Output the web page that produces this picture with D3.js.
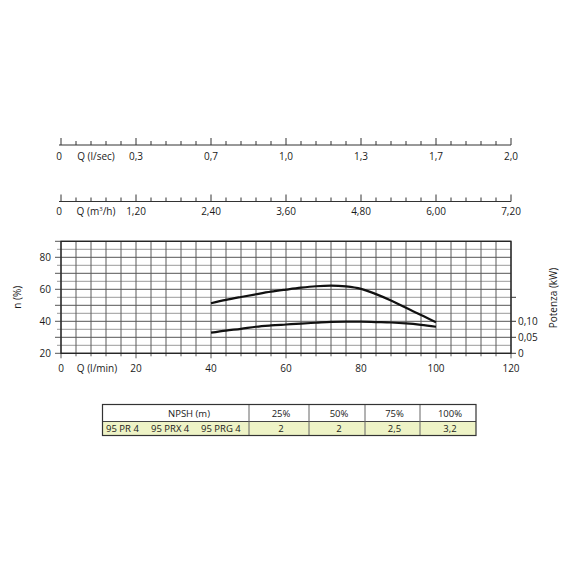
<!DOCTYPE html>
<html><head><meta charset="utf-8">
<script src="https://cdn.jsdelivr.net/npm/d3@7"></script>
<style>
body{margin:0;background:#fff}
svg{display:block}
text{font-family:"Open Sans",sans-serif;fill:#1a1a1a}
</style>
</head><body><svg id="c" width="570" height="570"></svg>
<script>
// ---- data ----
const flowLmin = [40,44,48,52,56,60,64,68,72,76,80,84,88,92,96,100];
const efficiency = [51.3,53.4,55.2,56.9,58.5,59.8,61.0,61.9,62.3,61.8,60.3,57.0,53.0,48.4,44.0,39.4];
const powerKW = [0.0645,0.071,0.0765,0.083,0.087,0.090,0.093,0.0955,0.098,0.0988,0.0988,0.0975,0.0962,0.0935,0.089,0.083];

const lminTicks = [20,40,60,80,100,120];
const lminLabels = ["20","40","60","80","100","120"];
const lsecLabels = ["0,3","0,7","1,0","1,3","1,7","2,0"];
const m3hLabels = ["1,20","2,40","3,60","4,80","6,00","7,20"];
const minorStep = 4;
const effTicks = [20,40,60,80];
const effGridMajor = [20,30,40,50,60,70,80,90];
const effGridMinor = [25,35,45,55,65,75,85];
const kwTicks = [0,0.05,0.10,0.175];
const kwLabels = ["0","0,05","0,10",""];

const tableHeader = ["NPSH (m)","25%","50%","75%","100%"];
const models = ["95 PR 4","95 PRX 4","95 PRG 4"];
const npshValues = ["2","2","2,5","3,2"];

// ---- drawing ----
const svg = d3.select("#c");
const X0 = 61, X1 = 511, YB = 353.3, YT = 241.3;
const x = d3.scaleLinear().domain([0,120]).range([X0,X1]);
const yL = d3.scaleLinear().domain([20,90]).range([YB,YT]);
const yR = d3.scaleLinear().domain([0,0.35]).range([YB,YT]);
const minorVals = d3.range(0,121,minorStep);

// top flow axes
function flowAxis(yPos, labels, title, labelDy){
  const g = svg.append("g");
  g.append("line").attr("x1",x(0)-2).attr("x2",x(120)).attr("y1",yPos).attr("y2",yPos)
    .attr("stroke","#333").attr("stroke-width",1);
  g.selectAll("line.mn").data(minorVals).join("line")
    .attr("x1",d=>x(d)).attr("x2",d=>x(d))
    .attr("y1",yPos).attr("y2",d=>d%20===0?yPos-7:yPos-4)
    .attr("stroke","#333").attr("stroke-width",1);
  g.selectAll("text.lb").data(lminTicks).join("text")
    .attr("x",d=>x(d)).attr("y",yPos+labelDy).attr("text-anchor","middle")
    .attr("font-size",10).text((d,i)=>labels[i]);
  g.append("text").attr("x",x(0)-2).attr("y",yPos+labelDy).attr("text-anchor","middle")
    .attr("font-size",10).text("0");
  g.append("text").attr("x",96).attr("y",yPos+labelDy).attr("text-anchor","middle")
    .attr("font-size",10).html(title);
}
flowAxis(145, lsecLabels, "Q (l/sec)", 15);
flowAxis(201.5, m3hLabels, "Q (m<tspan dy='-4' font-size='6'>3</tspan><tspan dy='4'>/h)</tspan>", 13);

// grid
const grid = svg.append("g");
grid.selectAll("line.hm").data(effGridMinor).join("line")
  .attr("x1",X0-4).attr("x2",X1).attr("y1",d=>yL(d)).attr("y2",d=>yL(d))
  .attr("stroke","#9a9a9a").attr("stroke-width",1);
grid.selectAll("line.hM").data(effGridMajor).join("line")
  .attr("x1",X0-6).attr("x2",X1).attr("y1",d=>yL(d)).attr("y2",d=>yL(d))
  .attr("stroke","#555").attr("stroke-width",1);
grid.selectAll("line.v").data(minorVals).join("line")
  .attr("x1",d=>x(d)).attr("x2",d=>x(d)).attr("y1",YT).attr("y2",d=>d%20===0?YB+5:YB+3)
  .attr("stroke","#5a5a5a").attr("stroke-width",1);
// frame
grid.append("rect").attr("x",X0).attr("y",YT).attr("width",X1-X0).attr("height",YB-YT)
  .attr("fill","none").attr("stroke","#222").attr("stroke-width",1.3);

// left labels
svg.selectAll("text.yl").data(effTicks).join("text")
  .attr("x",X0-10).attr("y",d=>yL(d)+3.5).attr("text-anchor","end").attr("font-size",10)
  .text(d=>d);
svg.append("text").attr("transform",`translate(21,${(YT+YB)/2}) rotate(-90)`)
  .attr("text-anchor","middle").attr("font-size",10).text("n (%)");

// right axis
const rg = svg.append("g");
rg.selectAll("line").data(kwTicks).join("line")
  .attr("x1",X1).attr("x2",X1+5).attr("y1",d=>yR(d)).attr("y2",d=>yR(d))
  .attr("stroke","#333").attr("stroke-width",1);
rg.selectAll("text").data(kwTicks).join("text")
  .attr("x",X1+7).attr("y",d=>yR(d)+3.5).attr("font-size",10).text((d,i)=>kwLabels[i]);
svg.append("text").attr("transform",`translate(557,298) rotate(-90)`)
  .attr("text-anchor","middle").attr("font-size",10).text("Potenza (kW)");

// bottom axis labels
svg.selectAll("text.xb").data(lminTicks).join("text")
  .attr("x",d=>x(d)).attr("y",372).attr("text-anchor","middle").attr("font-size",10)
  .text((d,i)=>lminLabels[i]);
svg.append("text").attr("x",x(0)).attr("y",372).attr("text-anchor","middle").attr("font-size",10).text("0");
svg.append("text").attr("x",97).attr("y",372).attr("text-anchor","middle").attr("font-size",10).text("Q (l/min)");

// curves
const effLine = d3.line().x((d,i)=>x(flowLmin[i])).y(d=>yL(d)).curve(d3.curveMonotoneX);
const powLine = d3.line().x((d,i)=>x(flowLmin[i])).y(d=>yR(d)).curve(d3.curveMonotoneX);
svg.append("path").attr("d",effLine(efficiency)).attr("fill","none").attr("stroke","#111").attr("stroke-width",2.2);
svg.append("path").attr("d",powLine(powerKW)).attr("fill","none").attr("stroke","#111").attr("stroke-width",2.2);

// table
const TX = [102.5,249,309,365,420,476];
const TY0 = 404.5, TY1 = 421.5, TY2 = 435.5;
const tb = svg.append("g");
tb.append("rect").attr("x",TX[0]).attr("y",TY1).attr("width",TX[5]-TX[0]).attr("height",TY2-TY1)
  .attr("fill","#eef3c6");
tb.append("line").attr("x1",TX[0]).attr("x2",TX[5]).attr("y1",TY1).attr("y2",TY1).attr("stroke","#444").attr("stroke-width",1);
tb.selectAll("line.cd").data(TX.slice(1,5)).join("line")
  .attr("x1",d=>d).attr("x2",d=>d).attr("y1",TY0).attr("y2",TY2).attr("stroke","#666").attr("stroke-width",1);
tb.append("rect").attr("x",TX[0]).attr("y",TY0).attr("width",TX[5]-TX[0]).attr("height",TY2-TY0)
  .attr("fill","none").attr("stroke","#333").attr("stroke-width",1.2);
tb.append("text").attr("x",189).attr("y",TY0+12).attr("text-anchor","middle").attr("font-size",9.5).text(tableHeader[0]);
tb.selectAll("text.hd").data(tableHeader.slice(1)).join("text")
  .attr("x",(d,i)=>(TX[i+1]+TX[i+2])/2+2).attr("y",TY0+12).attr("text-anchor","middle").attr("font-size",9.5).text(d=>d);
tb.selectAll("text.vl").data(npshValues).join("text")
  .attr("x",(d,i)=>(TX[i+1]+TX[i+2])/2+2).attr("y",TY1+10.5).attr("text-anchor","middle").attr("font-size",9.5).text(d=>d);
const modelX = [106,151,201];
tb.selectAll("text.md").data(models).join("text")
  .attr("x",(d,i)=>modelX[i]).attr("y",TY1+10.5).attr("font-size",9.5).text(d=>d);
</script>
</body></html>
